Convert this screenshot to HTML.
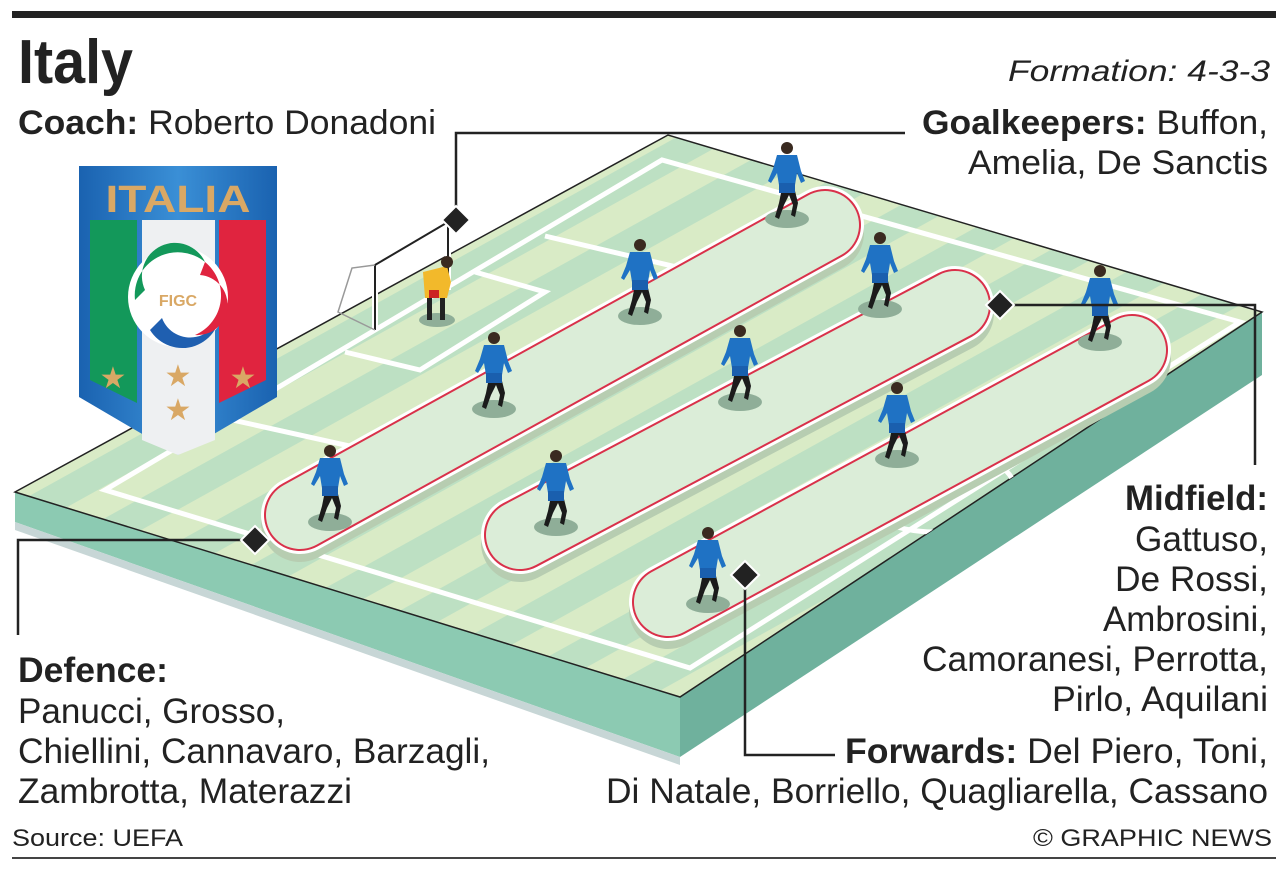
<!DOCTYPE html>
<html><head><meta charset="utf-8"><style>
html,body{margin:0;padding:0;background:#fff}
svg{display:block}
text{font-family:"Liberation Sans",sans-serif;fill:#222}
.b{font-weight:bold}
</style></head><body>
<svg width="1288" height="875" viewBox="0 0 1288 875" xmlns="http://www.w3.org/2000/svg">
<defs>
<pattern id="st" width="56" height="10" patternUnits="userSpaceOnUse" patternTransform="rotate(241)">
<rect width="28" height="10" fill="#d9ebc6"/><rect x="28" width="28" height="10" fill="#bde0c3"/>
</pattern>
<clipPath id="pc"><polygon points="15,492 668,135 1262,312 680,697"/></clipPath>
<linearGradient id="sh" x1="0" y1="0" x2="1" y2="0"><stop offset="0" stop-color="#1a62b0"/><stop offset=".5" stop-color="#3a8fd6"/><stop offset="1" stop-color="#1a62b0"/></linearGradient>
<g id="pl">
<ellipse cx="0" cy="34" rx="22" ry="9" fill="#8fae98"/>
<path d="M-4,-2 L-8,18 L-12,32 L-8,34 L-3,20 L2,10 L6,20 L4,30 L8,32 L11,18 L6,-2 Z" fill="#1b1b1b"/>
<path d="M-10,-30 L10,-30 L14,-14 L18,-4 L14,-2 L10,-12 L8,0 L-8,0 L-10,-12 L-16,-2 L-19,-4 L-14,-16 Z" fill="#1f72c4"/>
<rect x="-8" y="-2" width="16" height="10" fill="#1a5fae"/>
<circle cx="0" cy="-37" r="6" fill="#3a2a20"/>
</g>
</defs>
<rect x="12" y="11" width="1264" height="7" fill="#222"/>
<rect x="12" y="857" width="1264" height="2" fill="#444"/>

<polygon points="15,492 680,697 680,757 15,522" fill="#8ccab2"/>
<polygon points="680,697 1262,312 1262,375 680,757" fill="#6fb19d"/>
<polygon points="15,522 680,757 680,765 15,530" fill="#c7d6d6"/>
<polygon points="15,492 668,135 1262,312 680,697" fill="url(#st)" stroke="#222" stroke-width="1.5"/>
<g clip-path="url(#pc)" fill="none" stroke="#fff" stroke-width="5">
<polygon points="105,490 662,160 1240,322 690,668"/>
<polyline points="210,415 435,465 740,282 545,236"/>
<polyline points="345,352 420,370 545,292 475,272"/>
<path d="M560,345 Q655,335 650,370"/>
<ellipse cx="935" cy="490" rx="80" ry="42"/>
<line x1="855" y1="500" x2="1030" y2="455"/>
</g>
<g stroke-linecap="round" fill="none">
<line x1="300" y1="515" x2="825" y2="225" stroke="#b7cdb1" stroke-width="78" transform="translate(0,8)"/>
<line x1="300" y1="515" x2="825" y2="225" stroke="#fff" stroke-width="78"/>
<line x1="300" y1="515" x2="825" y2="225" stroke="#d9314a" stroke-width="72"/>
<line x1="300" y1="515" x2="825" y2="225" stroke="#dbedd8" stroke-width="68"/>
<line x1="520" y1="535" x2="955" y2="305" stroke="#b7cdb1" stroke-width="78" transform="translate(0,8)"/>
<line x1="520" y1="535" x2="955" y2="305" stroke="#fff" stroke-width="78"/>
<line x1="520" y1="535" x2="955" y2="305" stroke="#d9314a" stroke-width="72"/>
<line x1="520" y1="535" x2="955" y2="305" stroke="#dbedd8" stroke-width="68"/>
<line x1="668" y1="602" x2="1132" y2="350" stroke="#b7cdb1" stroke-width="78" transform="translate(0,8)"/>
<line x1="668" y1="602" x2="1132" y2="350" stroke="#fff" stroke-width="78"/>
<line x1="668" y1="602" x2="1132" y2="350" stroke="#d9314a" stroke-width="72"/>
<line x1="668" y1="602" x2="1132" y2="350" stroke="#dbedd8" stroke-width="68"/>
</g>
<g fill="none">
<polyline points="375,330 375,265 448,222 448,290" stroke="#fff" stroke-width="6"/>
<polyline points="375,330 375,265 448,222 448,290" stroke="#222" stroke-width="2"/>
<polyline points="375,265 352,268 338,312 375,330" stroke="#999" stroke-width="1.5"/>
</g>
<g transform="translate(437,290)">
<ellipse cx="0" cy="30" rx="18" ry="7" fill="#8fae98"/>
<rect x="-10" y="8" width="5" height="22" fill="#222"/><rect x="3" y="8" width="5" height="22" fill="#222"/>
<path d="M-14,-18 L10,-24 L14,-8 L10,8 L-12,8 Z" fill="#f2b92b"/>
<rect x="-8" y="0" width="10" height="8" fill="#c22"/>
<circle cx="10" cy="-28" r="6" fill="#3a2a20"/>
</g>
<use href="#pl" x="787" y="185"/>
<use href="#pl" x="640" y="282"/>
<use href="#pl" x="880" y="275"/>
<use href="#pl" x="1100" y="308"/>
<use href="#pl" x="494" y="375"/>
<use href="#pl" x="740" y="368"/>
<use href="#pl" x="897" y="425"/>
<use href="#pl" x="330" y="488"/>
<use href="#pl" x="556" y="493"/>
<use href="#pl" x="708" y="570"/>

<g stroke="#222" stroke-width="2.5" fill="none">
<polyline points="456,220 456,133 905,133"/>
<polyline points="1000,305 1255,305 1255,465"/>
<polyline points="255,540 18,540 18,635"/>
<polyline points="745,575 745,755 835,755"/>
</g>
<g fill="#222" stroke="#fff" stroke-width="2">
<polygon points="456,206 470,220 456,234 442,220"/>
<polygon points="1000,291 1014,305 1000,319 986,305"/>
<polygon points="255,526 269,540 255,554 241,540"/>
<polygon points="745,561 759,575 745,589 731,575"/>
</g>

<path d="M79,166 H277 V397 L178,455 L79,397 Z" fill="url(#sh)"/>
<path d="M90,220 H137 V403 L90,380 Z" fill="#13985a"/>
<path d="M142,220 H215 V440 L178,455 L142,440 Z" fill="#eef0f2"/>
<path d="M219,220 H266 V380 L219,403 Z" fill="#e0243f"/>
<text x="178" y="212" text-anchor="middle" style="font-weight:bold;font-size:38px;fill:#d9a865" textLength="145" lengthAdjust="spacingAndGlyphs">ITALIA</text>
<circle cx="178" cy="297" r="50" fill="#fff"/>
<path d="M135,300 A43,43 0 0 1 205,262 A32,32 0 0 0 145,290 Z" fill="#13985a"/>
<path d="M150,330 A38,38 0 0 0 220,305 A30,30 0 0 1 162,318 Z" fill="#1f5fb0"/>
<path d="M205,262 A43,43 0 0 1 195,335 A30,30 0 0 0 200,275 Z" fill="#e0243f"/>
<text x="178" y="306" text-anchor="middle" style="font-weight:bold;font-size:16px;fill:#d9a865">FIGC</text>
<g font-size="30" text-anchor="middle">
<text x="113" y="388" style="fill:#d9a865">★</text><text x="178" y="386" style="fill:#d9a865">★</text>
<text x="243" y="388" style="fill:#d9a865">★</text><text x="178" y="420" style="fill:#d9a865">★</text>
</g>

<text x="18" y="83" class="b" font-size="62" textLength="115" lengthAdjust="spacingAndGlyphs">Italy</text>
<text x="1270" y="81" text-anchor="end" font-size="30" font-style="italic" textLength="262" lengthAdjust="spacingAndGlyphs">Formation: 4-3-3</text>
<text x="18" y="134" font-size="34" textLength="418" lengthAdjust="spacingAndGlyphs"><tspan class="b">Coach:</tspan> Roberto Donadoni</text>
<text x="922" y="134" font-size="34" textLength="346" lengthAdjust="spacingAndGlyphs"><tspan class="b">Goalkeepers:</tspan> Buffon,</text>
<text x="968" y="174" font-size="34" textLength="300" lengthAdjust="spacingAndGlyphs">Amelia, De Sanctis</text>
<g font-size="35">
<text x="1125" y="510" class="b" textLength="143" lengthAdjust="spacingAndGlyphs">Midfield:</text>
<text x="1135" y="551" textLength="133" lengthAdjust="spacingAndGlyphs">Gattuso,</text>
<text x="1115" y="591" textLength="153" lengthAdjust="spacingAndGlyphs">De Rossi,</text>
<text x="1103" y="631" textLength="165" lengthAdjust="spacingAndGlyphs">Ambrosini,</text>
<text x="922" y="671" textLength="346" lengthAdjust="spacingAndGlyphs">Camoranesi, Perrotta,</text>
<text x="1052" y="711" textLength="216" lengthAdjust="spacingAndGlyphs">Pirlo, Aquilani</text>
<text x="18" y="682" class="b" textLength="150" lengthAdjust="spacingAndGlyphs">Defence:</text>
<text x="18" y="723" textLength="267" lengthAdjust="spacingAndGlyphs">Panucci, Grosso,</text>
<text x="18" y="763" textLength="472" lengthAdjust="spacingAndGlyphs">Chiellini, Cannavaro, Barzagli,</text>
<text x="18" y="803" textLength="334" lengthAdjust="spacingAndGlyphs">Zambrotta, Materazzi</text>
<text x="845" y="763" textLength="423" lengthAdjust="spacingAndGlyphs"><tspan class="b">Forwards:</tspan> Del Piero, Toni,</text>
<text x="606" y="803" textLength="662" lengthAdjust="spacingAndGlyphs">Di Natale, Borriello, Quagliarella, Cassano</text>
</g>
<text x="12" y="846" font-size="24" textLength="171" lengthAdjust="spacingAndGlyphs">Source: UEFA</text>
<text x="1272" y="846" text-anchor="end" font-size="24" textLength="239" lengthAdjust="spacingAndGlyphs">© GRAPHIC NEWS</text>
</svg>
</body></html>
